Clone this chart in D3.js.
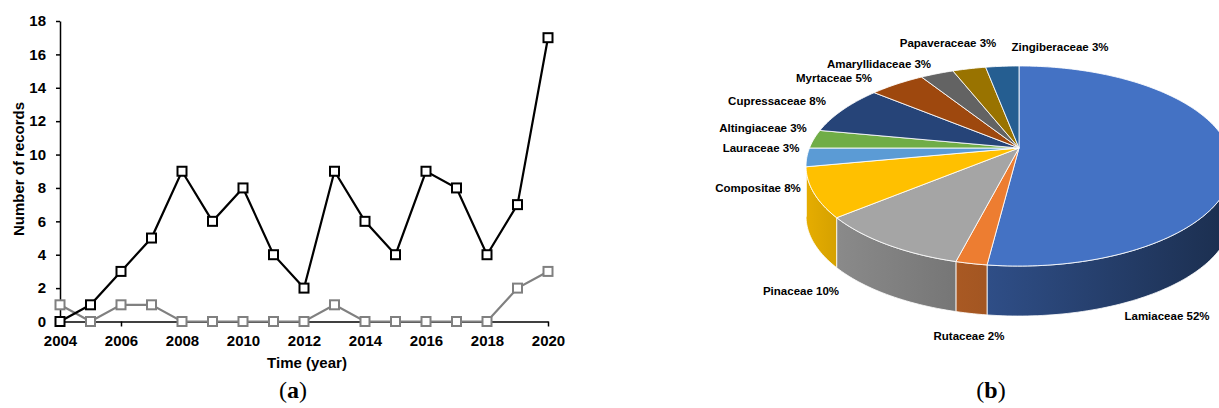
<!DOCTYPE html>
<html>
<head>
<meta charset="utf-8">
<script src="https://cdn.jsdelivr.net/npm/d3@7"></script>
<style>
  html, body { margin: 0; padding: 0; background: #fff; }
  svg { display: block; }
  text { font-family: "Liberation Sans", Arial, sans-serif; font-weight: bold; fill: #000; }
</style>
</head>
<body>
<svg id="chart" width="1219" height="408"></svg>
<script>
// ---------- DATA ----------
const years = [2004,2005,2006,2007,2008,2009,2010,2011,2012,2013,2014,2015,2016,2017,2018,2019,2020];
const seriesBlack = [0,1,3,5,9,6,8,4,2,9,6,4,9,8,4,7,17];
const seriesGray  = [1,0,1,1,0,0,0,0,0,1,0,0,0,0,0,2,3];
const yTickValues = [0,2,4,6,8,10,12,14,16,18];
const xTickValues = [2004,2006,2008,2010,2012,2014,2016,2018,2020];

const families = ["Lamiaceae","Rutaceae","Pinaceae","Compositae","Lauraceae","Altingiaceae",
                  "Cupressaceae","Myrtaceae","Amaryllidaceae","Papaveraceae","Zingiberaceae"];
const shares = [52,2,10,8,3,3,8,5,3,3,3];

// ---------- STYLE / LAYOUT ----------
const sliceColors = ["#4472C4","#ED7D31","#A5A5A5","#FFC000","#5B9BD5","#70AD47",
                     "#264478","#9E480E","#636363","#997300","#255E91"];
// label centre positions (annotation layout)
const labelLayout = {
  "Lamiaceae":[1167,316], "Rutaceae":[969,336], "Pinaceae":[801,291], "Compositae":[758,188],
  "Lauraceae":[761,148], "Altingiaceae":[763,128], "Cupressaceae":[777,101], "Myrtaceae":[834,78],
  "Amaryllidaceae":[879,64], "Papaveraceae":[948,43], "Zingiberaceae":[1060,47]
};

const svg = d3.select("#chart");

// ---------- LINE CHART (a) ----------
const x = d3.scaleLinear().domain([2004,2020]).range([60,548]);
const y = d3.scaleLinear().domain([0,18]).range([321.5,21]);

const gx = svg.append("g").attr("transform","translate(0,321.5)")
  .call(d3.axisBottom(x).tickValues(xTickValues).tickFormat(d3.format("d"))
        .tickSize(5).tickSizeOuter(0).tickPadding(9));
const gy = svg.append("g").attr("transform","translate(60,0)")
  .call(d3.axisLeft(y).tickValues(yTickValues).tickSize(4).tickSizeOuter(0).tickPadding(10));
[gx, gy].forEach(g => {
  g.selectAll("path,line").attr("stroke","#000").attr("stroke-width",1.5);
  g.selectAll("text").style("font-size","15px").style("font-family","'Liberation Sans', Arial, sans-serif")
   .style("font-weight","bold").attr("fill","#000");
});

svg.append("text").attr("x",307).attr("y",363).attr("dy","0.35em").attr("text-anchor","middle")
  .style("font-size","15px").text("Time (year)");
svg.append("text").attr("transform","translate(19,169) rotate(-90)").attr("dy","0.35em")
  .attr("text-anchor","middle").style("font-size","15px").text("Number of records");

function drawSeries(vals, color) {
  const pts = years.map((yr,i)=>[yr, vals[i]]);
  svg.append("path").datum(pts)
    .attr("fill","none").attr("stroke",color).attr("stroke-width",2.2)
    .attr("d", d3.line().x(d=>x(d[0])).y(d=>y(d[1])));
  svg.append("g").selectAll("rect").data(pts).join("rect")
    .attr("x",d=>x(d[0])-4.5).attr("y",d=>y(d[1])-4.5)
    .attr("width",9).attr("height",9)
    .attr("fill","#fff").attr("stroke",color).attr("stroke-width",2);
}
drawSeries(seriesGray, "#808080");
drawSeries(seriesBlack, "#000");

// ---------- 3D PIE (b) ----------
const CX = 1019, CY = 148, A = 209.5, B = 96.8, K = 0.18, DEPTH = 50;
function P(t, dz) {
  const u = Math.sin(t), v = -Math.cos(t), w = 1 - K*v;
  return [CX + A*u/w, CY + B*v/w + (dz||0)];
}
function arcPts(a0, a1, dz) {
  const n = Math.max(4, Math.ceil((a1-a0)/0.02));
  return d3.range(n+1).map(i => P(a0 + (a1-a0)*i/n, dz));
}
const arcs = d3.pie().sort(null).value(d=>d).startAngle(0).endAngle(2*Math.PI)(shares);

const tL = Math.acos(-K), tR = 2*Math.PI - Math.acos(-K);
function shade(t) {
  const deg = t*180/Math.PI;
  return Math.max(0.4, Math.min(0.9, 0.42 + (deg-110)/130*0.45));
}
function scaled(c, f) { const r = d3.rgb(c); return d3.rgb(r.r*f, r.g*f, r.b*f).formatHex(); }

const defs = svg.append("defs");
const sideG = svg.append("g");
const topG = svg.append("g");

arcs.forEach((a, i) => {
  const s = Math.max(a.startAngle, tL), e = Math.min(a.endAngle, tR);
  if (s < e) {
    const gid = "sg"+i;
    const lg = defs.append("linearGradient").attr("id",gid).attr("x1",0).attr("x2",1).attr("y1",0).attr("y2",0);
    lg.append("stop").attr("offset",0).attr("stop-color", scaled(sliceColors[i], shade(e)));
    lg.append("stop").attr("offset",1).attr("stop-color", scaled(sliceColors[i], shade(s)));
    const pts = arcPts(s, e, 0).concat(arcPts(s, e, DEPTH).reverse());
    sideG.append("path").attr("d", d3.line()(pts) + "Z")
      .attr("fill","url(#"+gid+")").attr("stroke","#fff").attr("stroke-width",1).attr("stroke-opacity",0.8);
  }
  const tp = [[CX,CY]].concat(arcPts(a.startAngle, a.endAngle, 0));
  topG.append("path").attr("d", d3.line()(tp) + "Z")
    .attr("fill", sliceColors[i]).attr("stroke","#fff").attr("stroke-width",1).attr("stroke-opacity",0.85)
    .attr("stroke-linejoin","round");
});

svg.append("g").selectAll("text").data(arcs).join("text")
  .attr("x", (d,i)=>labelLayout[families[i]][0])
  .attr("y", (d,i)=>labelLayout[families[i]][1])
  .attr("dy","0.35em").attr("text-anchor","middle")
  .style("font-size","11.5px")
  .text((d,i)=>families[i]+" "+shares[i]+"%");

// ---------- captions ----------
function caption(cx, letter) {
  const t = svg.append("text").attr("x",cx).attr("y",398).attr("text-anchor","middle")
    .style("font-family","'Liberation Serif','DejaVu Serif',serif").style("font-size","24px")
    .style("font-weight","normal");
  t.append("tspan").text("(");
  t.append("tspan").style("font-weight","bold").text(letter);
  t.append("tspan").text(")");
}
caption(293,"a");
caption(991,"b");
</script>
</body>
</html>
